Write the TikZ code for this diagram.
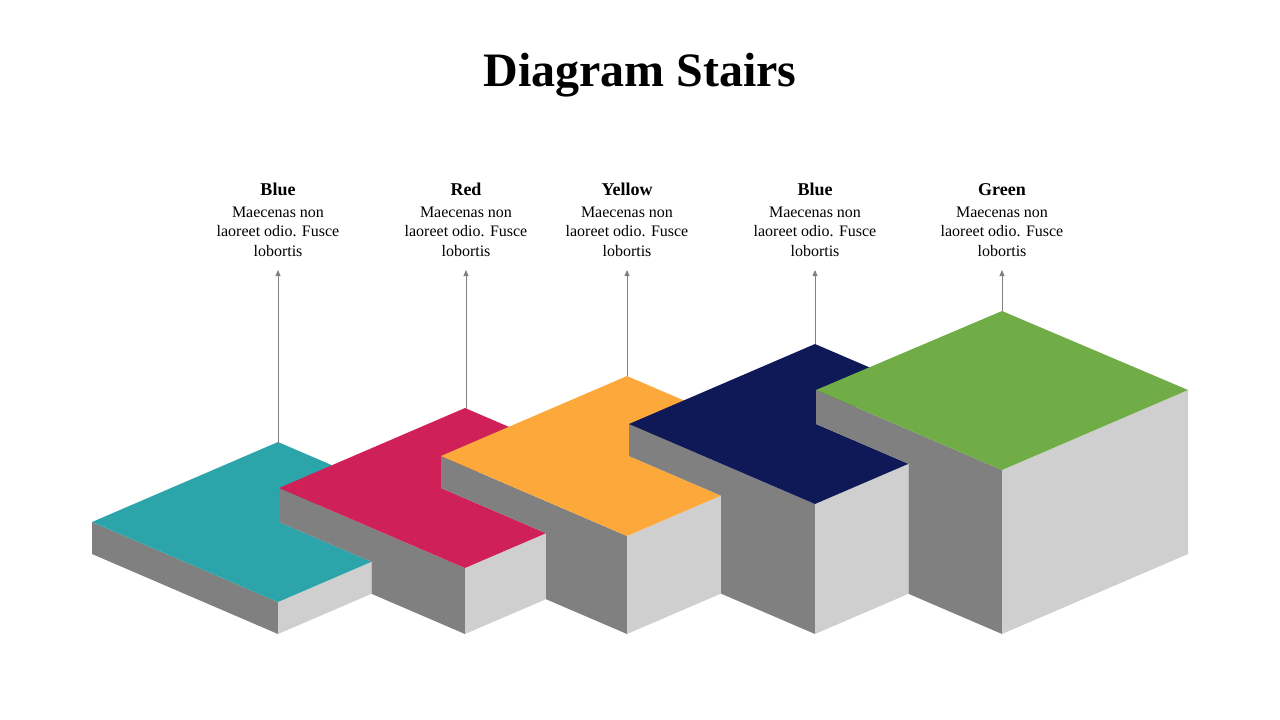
\documentclass[tikz,border=0pt]{standalone}
\usepackage{fontspec}
\setmainfont{Liberation Serif}
\usetikzlibrary{arrows.meta}
\definecolor{cteal}{HTML}{2CA5AA}
\definecolor{cred}{HTML}{CF2057}
\definecolor{cyel}{HTML}{FDA83A}
\definecolor{cnavy}{HTML}{0F1957}
\definecolor{cgreen}{HTML}{70AD47}
\definecolor{dgrey}{HTML}{808080}
\definecolor{lgrey}{HTML}{D0CFD0}
\tikzset{
  darkface/.style={fill=dgrey},
  lightface/.style={fill=lgrey},
  lbl/.style={font=\fontsize{18}{20}\selectfont\bfseries, anchor=base},
  body/.style={font=\fontsize{16}{19.5}\selectfont, align=center, anchor=north},
  pointer/.style={draw=dgrey, line width=0.8pt, -{Triangle[length=6pt,width=5pt]}}
}
\begin{document}
\begin{tikzpicture}[x=1pt,y=-1pt]
\useasboundingbox (0,0) rectangle (1280,720);
\node[font=\fontsize{48}{50}\selectfont\bfseries, anchor=base] (title) at (640,86) {Diagram Stairs};
% teal
\fill[darkface] (92,522) -- (278,602) -- (278,634) -- (92,554) -- cycle;
\fill[lightface] (278,602) -- (371.5,561.8) -- (371.5,593.8) -- (278,634) -- cycle;
\fill[cteal] (92,522) -- (278,602) -- (371.5,561.8) -- (279,522) -- (371.5,482.2) -- (278,442) -- cycle;
% red
\fill[darkface] (371.5,593.8) -- (465,634) -- (465,568) -- (279,488) -- (279,522) -- (371.5,561.8) -- cycle;
\fill[lightface] (465,568) -- (546,533.2) -- (546,599.2) -- (465,634) -- cycle;
\fill[cred] (279,488) -- (465,568) -- (546,533.2) -- (441,488) -- (546,442.8) -- (465,408) -- cycle;
% yellow
\fill[darkface] (546,599.2) -- (627,634) -- (627,536) -- (441,456) -- (441,488) -- (546,533.2) -- cycle;
\fill[lightface] (627,536) -- (721,495.6) -- (721,593.6) -- (627,634) -- cycle;
\fill[cyel] (441,456) -- (627,536) -- (721,495.6) -- (629,456) -- (721,416.4) -- (627,376) -- cycle;
% navy
\fill[darkface] (721,593.6) -- (815,634) -- (815,504) -- (629,424) -- (629,456) -- (721,495.6) -- cycle;
\fill[lightface] (815,504) -- (908.5,463.8) -- (908.5,593.8) -- (815,634) -- cycle;
\fill[cnavy] (629,424) -- (815,504) -- (908.5,463.8) -- (816,424) -- (908.5,384.2) -- (815,344) -- cycle;
% green
\fill[darkface] (908.5,593.8) -- (1002,634) -- (1002,470) -- (816,390) -- (816,424) -- (908.5,463.8) -- cycle;
\fill[lightface] (1002,470) -- (1188,390) -- (1188,554) -- (1002,634) -- cycle;
\fill[cgreen] (816,390) -- (1002,470) -- (1188,390) -- (1002,311) -- cycle;
% labels
\foreach \n/\x/\y/\t in {a/278/444/Blue, b/466/409/Red, c/627/376/Yellow, d/815/344/Blue, e/1002/311/Green}{
  \coordinate (p\n) at (\x,\y);
  \node[lbl] (h\n) at (\x,195) {\t};
  \node[body] (t\n) at (\x,203) {Maecenas non\\laoreet odio. Fusce\\lobortis};
  \coordinate (q\n) at (\x,270);
  \draw[pointer] (p\n) -- (q\n);
}
\end{tikzpicture}
\end{document}
